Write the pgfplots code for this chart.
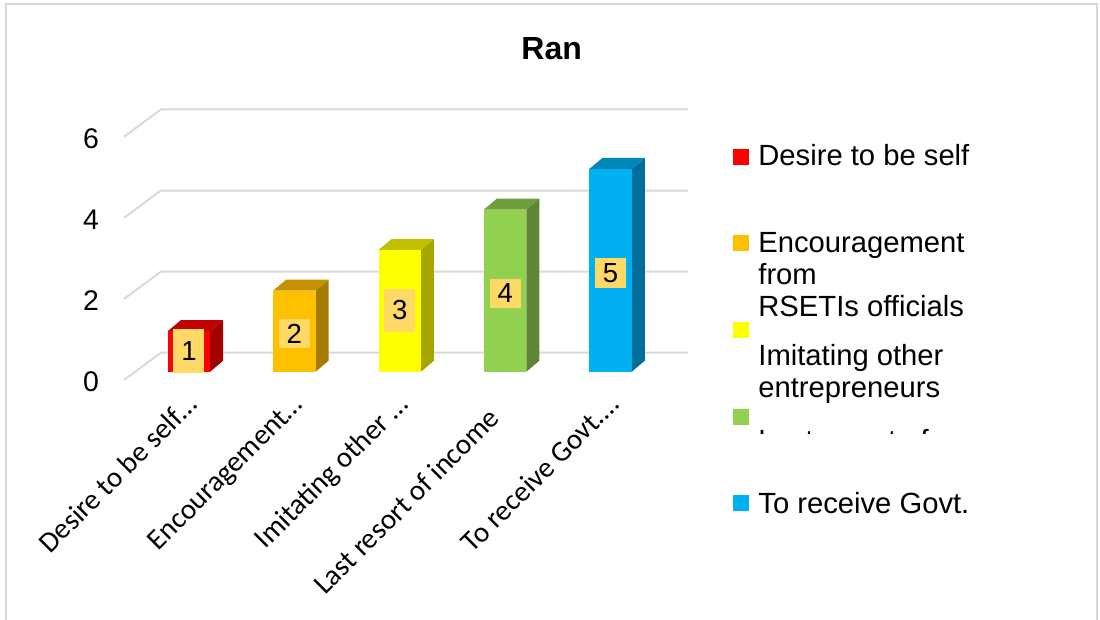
\documentclass[border=0pt]{standalone}
\usepackage{pgfplots}
\pgfplotsset{compat=1.18}
\usepackage{pgfplotstable}
\usepackage{fontspec}
\setmainfont{Liberation Sans}
\newfontfamily\calibri{Carlito}
\definecolor{gridc}{RGB}{217,217,217}
\definecolor{framec}{RGB}{217,217,217}
\definecolor{labelc}{RGB}{255,217,102}
\definecolor{c1f}{RGB}{255,0,0}\definecolor{c1t}{RGB}{192,0,0}\definecolor{c1s}{RGB}{163,0,0}
\definecolor{c2f}{RGB}{255,192,0}\definecolor{c2t}{RGB}{196,146,0}\definecolor{c2s}{RGB}{166,124,0}
\definecolor{c3f}{RGB}{255,255,0}\definecolor{c3t}{RGB}{192,192,0}\definecolor{c3s}{RGB}{166,166,0}
\definecolor{c4f}{RGB}{146,208,80}\definecolor{c4t}{RGB}{112,158,60}\definecolor{c4s}{RGB}{95,134,52}
\definecolor{c5f}{RGB}{0,176,240}\definecolor{c5t}{RGB}{0,134,184}\definecolor{c5s}{RGB}{0,112,154}

\pgfplotstableread{
i v
0 1
1 2
2 3
3 4
4 5
}\bardata

\pgfplotsset{
  datalabel/.style 2 args={draw=none, mark=none, nodes near coords, point meta=explicit,
    every node near coord/.append style={fill=labelc, text=black, minimum width=15.5pt, minimum height=#1, inner sep=0pt, anchor=center, yshift=#2, font=\fontsize{13.8}{15}\selectfont}},
}

\begin{document}
\begin{tikzpicture}
\useasboundingbox (0,0) rectangle (550pt,-310pt);
\clip (0,0) rectangle (550pt,-310pt);
\fill[white] (0,0) rectangle (550pt,-310pt);
\draw[framec, line width=1pt] (3pt,-2pt) rectangle (548.5pt,-340pt);
\begin{axis}[
  at={(94.5pt,-185.85pt)}, anchor=origin,
  x=52.7pt, y=20.275pt,
  xmin=-0.6167, xmax=4.8, ymin=-0.3, ymax=6.6,
  clip=false,
  axis x line*=bottom, axis y line*=left,
  axis line style={draw=none},
  major tick length=0pt,
  /pgf/number format/assume math mode=true,
  ytick={0,2,4,6},
  yticklabel style={font=\fontsize{14.2}{16}\selectfont, anchor=east, inner sep=0pt, xshift=-12.3pt, yshift=-5pt},
  xtick={0,1,2,3,4},
  xticklabels={Desire to be self…, Encouragement…, Imitating other …, Last resort of income\hspace*{10pt}, To receive Govt.…},
  xticklabel style={xshift=5pt, yshift=-11pt, rotate=45, anchor=base east, inner sep=0pt, font=\calibri\fontsize{14.5}{16}\selectfont},
]
% perspective gridlines
\addplot[gridc, line width=1pt, mark=none] coordinates {(-0.6167,-0.2047) (-0.2657,0.4686) (4.734,0.4686)};
\addplot[gridc, line width=1pt, mark=none] coordinates {(-0.6167,1.7953) (-0.2657,2.4686) (4.734,2.4686)};
\addplot[gridc, line width=1pt, mark=none] coordinates {(-0.6167,3.7953) (-0.2657,4.4686) (4.734,4.4686)};
\addplot[gridc, line width=1pt, mark=none] coordinates {(-0.6167,5.7953) (-0.2657,6.4686) (4.734,6.4686)};
% bar 1
\addplot[fill=c1s, draw=none, mark=none] coordinates {(0.2011,0) (0.3244,0.2713) (0.3244,1.2713) (0.2011,1)} --cycle;
\addplot[fill=c1t, draw=none, mark=none] coordinates {(-0.2011,1) (0.2011,1) (0.3244,1.2713) (-0.0778,1.2713)} --cycle;
\addplot[ybar, bar width=21.2pt, bar shift=0pt, fill=c1f, draw=none] coordinates {(0,1)};
% bar 2
\addplot[fill=c2s, draw=none, mark=none] coordinates {(1.2011,0) (1.3244,0.2713) (1.3244,2.2713) (1.2011,2)} --cycle;
\addplot[fill=c2t, draw=none, mark=none] coordinates {(0.7989,2) (1.2011,2) (1.3244,2.2713) (0.9222,2.2713)} --cycle;
\addplot[ybar, bar width=21.2pt, bar shift=0pt, fill=c2f, draw=none] coordinates {(1,2)};
% bar 3
\addplot[fill=c3s, draw=none, mark=none] coordinates {(2.2011,0) (2.3244,0.2713) (2.3244,3.2713) (2.2011,3)} --cycle;
\addplot[fill=c3t, draw=none, mark=none] coordinates {(1.7989,3) (2.2011,3) (2.3244,3.2713) (1.9222,3.2713)} --cycle;
\addplot[ybar, bar width=21.2pt, bar shift=0pt, fill=c3f, draw=none] coordinates {(2,3)};
% bar 4
\addplot[fill=c4s, draw=none, mark=none] coordinates {(3.2011,0) (3.3244,0.2713) (3.3244,4.2713) (3.2011,4)} --cycle;
\addplot[fill=c4t, draw=none, mark=none] coordinates {(2.7989,4) (3.2011,4) (3.3244,4.2713) (2.9222,4.2713)} --cycle;
\addplot[ybar, bar width=21.2pt, bar shift=0pt, fill=c4f, draw=none] coordinates {(3,4)};
% bar 5
\addplot[fill=c5s, draw=none, mark=none] coordinates {(4.2011,0) (4.3244,0.2713) (4.3244,5.2713) (4.2011,5)} --cycle;
\addplot[fill=c5t, draw=none, mark=none] coordinates {(3.7989,5) (4.2011,5) (4.3244,5.2713) (3.9222,5.2713)} --cycle;
\addplot[ybar, bar width=21.2pt, bar shift=0pt, fill=c5f, draw=none] coordinates {(4,5)};
% data labels (boxes of bars 1 and 3 are taller)
\addplot[datalabel={21.7pt}{0.2pt}, skip coords between index={1}{2}, skip coords between index={3}{5}]
  table[x=i, y expr=\thisrow{v}/2, meta=v] {\bardata};
\addplot[datalabel={14.7pt}{-1.3pt}, skip coords between index={0}{1}, skip coords between index={2}{3}]
  table[x=i, y expr=\thisrow{v}/2, meta=v] {\bardata};
\end{axis}

\begin{scope}[x=0.5pt, y=-0.5pt]
\node[anchor=base, font=\bfseries\fontsize{16}{18}\selectfont, inner sep=0pt] at (551.7,59.3) {Ran};
\fill[c1f] (733,149) rectangle (749,165);
\fill[c2f] (733,235.3) rectangle (749,251.3);
\fill[c3f] (733,322.5) rectangle (749,338.5);
\fill[c4f] (733,409.5) rectangle (749,425.5);
\fill[c5f] (733,495) rectangle (749,511);
\begin{scope}[every node/.style={anchor=base west, inner sep=0pt, font=\fontsize{14.6}{16}\selectfont}]
\node at (758,166) {Desire to be self};
\node at (758,253) {Encouragement};
\node at (758,284.5) {from};
\node at (758,316.5) {RSETIs officials};
\node at (758,366) {Imitating other};
\node at (758,398) {entrepreneurs};
\node at (758,513.3) {To receive Govt.};
\begin{scope}
\clip (750,420) rectangle (1000,434);
\node at (758,450.2) {Last resort of};
\end{scope}
\end{scope}
\end{scope}
\end{tikzpicture}
\end{document}
